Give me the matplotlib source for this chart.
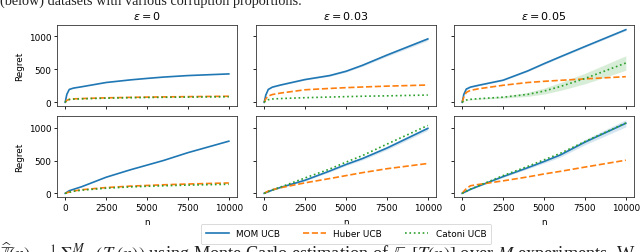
import numpy as np
import matplotlib
matplotlib.use("Agg")
import matplotlib.pyplot as plt

# horizon grid (n) shared by every curve
n_grid = [0, 100, 250, 500, 1000, 2500, 4000, 5000, 6000, 7500, 10000]

titles = [r"$\epsilon = 0$", r"$\epsilon = 0.03$", r"$\epsilon = 0.05$"]
labels = ["MOM UCB", "Huber UCB", "Catoni UCB"]

# top row
mom_top_0 = [0, 120, 195, 215, 235, 300, 340, 362, 382, 405, 430]
huber_top_0 = [0, 30, 45, 52, 57, 68, 75, 79, 82, 86, 92]
catoni_top_0 = [0, 28, 42, 48, 53, 63, 70, 73, 76, 79, 84]

mom_top_3 = [0, 110, 195, 230, 262, 345, 405, 470, 560, 715, 960]
huber_top_3 = [0, 55, 95, 118, 140, 190, 210, 222, 232, 245, 262]
catoni_top_3 = [0, 25, 40, 50, 57, 70, 80, 86, 92, 98, 110]

mom_top_5 = [0, 120, 200, 230, 258, 335, 475, 585, 690, 845, 1100]
huber_top_5 = [0, 80, 150, 180, 205, 258, 300, 318, 333, 355, 388]
catoni_top_5 = [0, 20, 35, 45, 55, 78, 120, 170, 240, 360, 595]

# bottom row
mom_bot_0 = [0, 15, 40, 60, 100, 245, 360, 430, 500, 620, 795]
huber_bot_0 = [0, 8, 20, 35, 55, 88, 110, 120, 130, 142, 158]
catoni_bot_0 = [0, 6, 16, 30, 48, 78, 98, 107, 115, 125, 138]

mom_bot_3 = [0, 10, 25, 50, 90, 200, 340, 440, 530, 690, 990]
huber_bot_3 = [0, 15, 35, 55, 85, 160, 225, 270, 315, 375, 455]
catoni_bot_3 = [0, 10, 25, 50, 95, 235, 370, 475, 575, 750, 1035]

mom_bot_5 = [0, 12, 30, 60, 110, 255, 390, 485, 585, 780, 1068]
huber_bot_5 = [0, 30, 70, 115, 135, 190, 250, 295, 335, 400, 505]
catoni_bot_5 = [0, 12, 30, 62, 115, 270, 410, 510, 610, 790, 1072]

# half widths of the visible confidence bands
band_mom_top_3 = [0, 3, 5, 5, 6, 8, 10, 12, 15, 20, 25]
band_mom_top_5 = [0, 3, 5, 5, 6, 8, 10, 12, 13, 14, 15]
band_catoni_top_5 = [0, 3, 5, 6, 8, 15, 30, 45, 60, 80, 110]
band_mom_bot_3 = [0, 3, 5, 6, 8, 12, 15, 18, 22, 25, 30]
band_mom_bot_5 = [0, 3, 5, 6, 8, 12, 18, 25, 32, 40, 55]

colors = ["#1f77b4", "#ff7f0e", "#2ca02c"]
styles = ["-", "--", ":"]

rows = [
    [(mom_top_0, huber_top_0, catoni_top_0),
     (mom_top_3, huber_top_3, catoni_top_3),
     (mom_top_5, huber_top_5, catoni_top_5)],
    [(mom_bot_0, huber_bot_0, catoni_bot_0),
     (mom_bot_3, huber_bot_3, catoni_bot_3),
     (mom_bot_5, huber_bot_5, catoni_bot_5)],
]
bands = {
    (0, 1, 0): band_mom_top_3,
    (0, 2, 0): band_mom_top_5,
    (0, 2, 2): band_catoni_top_5,
    (1, 1, 0): band_mom_bot_3,
    (1, 2, 0): band_mom_bot_5,
}

W, H = 640, 253
fig = plt.figure(figsize=(W / 100, H / 100), dpi=100)

lefts = [57, 256, 454]
aw = 180
tops = [26, 117]
ah = 81
fs = 6.4

axes = [[None] * 3 for _ in range(2)]
for r in range(2):
    for c in range(3):
        ax = fig.add_axes([lefts[c] / W, 1 - (tops[r] + ah) / H, aw / W, ah / H])
        axes[r][c] = ax
        for k in range(3):
            y = np.array(rows[r][c][k], dtype=float)
            ax.plot(n_grid, y, color=colors[k], ls=styles[k], lw=1.2,
                    label=labels[k])
            b = bands.get((r, c, k))
            if b is not None:
                b = np.array(b, dtype=float)
                ax.fill_between(n_grid, y - b, y + b, color=colors[k],
                                alpha=0.18, lw=0)
        ax.set_xticks([0, 2500, 5000, 7500, 10000])
        ax.set_yticks([0, 500, 1000])
        ax.tick_params(labelsize=fs, length=2.2, width=0.6, pad=2)
        for s in ax.spines.values():
            s.set_linewidth(0.6)
            s.set_color("#333333")
        if r == 0:
            ax.set_title(titles[c], fontsize=8, pad=4)
            ax.tick_params(labelbottom=False)
        else:
            ax.set_xlabel("n", fontsize=fs, labelpad=4)
        if c == 0:
            ax.set_ylabel("Regret", fontsize=fs, labelpad=3)
        else:
            ax.tick_params(labelleft=False)

for r in range(2):
    lo = min(a.get_ylim()[0] for a in axes[r])
    hi = max(a.get_ylim()[1] for a in axes[r])
    for a in axes[r]:
        a.set_ylim(lo, hi)
        a.set_xlim(-500, 10500)

leg = axes[1][1].legend(loc="upper center", bbox_to_anchor=(0.5, -0.28), ncol=3,
                        fontsize=fs, frameon=True, handlelength=2.6,
                        columnspacing=2.6, borderpad=0.6, framealpha=1,
                        edgecolor="#cccccc")
leg.get_frame().set_linewidth(0.5)

# surrounding paper text, clipped by the crop
fig.text(0.0, 1 - 4.5 / H, "(below) datasets with various corruption proportions.",
         family="Liberation Serif", fontsize=10.3, va="baseline", ha="left",
         color="#222222")
fig.text(0.0, -7.0 / H,
         r"$\widehat{\mathbb{T}}(n) = \frac{1}{M}\Sigma_{i=1}^{M}(T_i(n))$ using Monte Carlo "
         r"estimation of $\mathbb{E}_\pi[T(n)]$ over $M$ experiments. W",
         family="Liberation Serif", math_fontfamily="stix", fontsize=13.2,
         va="baseline", ha="left", color="#222222")

fig.savefig("out.png", dpi=100)
